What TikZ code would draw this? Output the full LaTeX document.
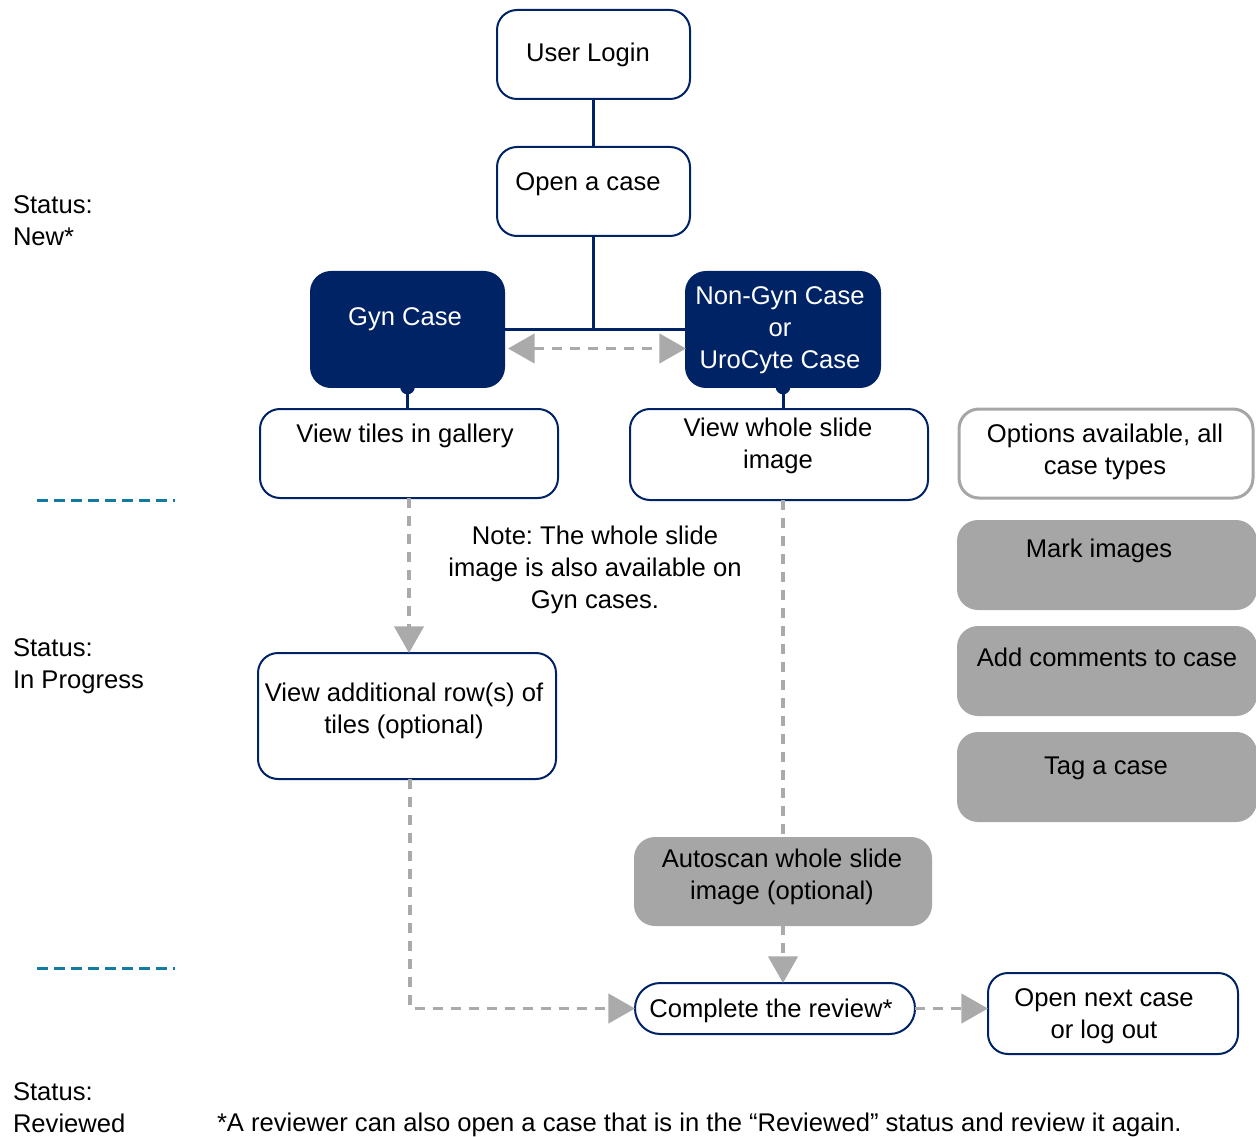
\documentclass[tikz,border=0pt]{standalone}
\usepackage{fontspec}
\setmainfont{Liberation Sans}
\usetikzlibrary{arrows.meta}
\definecolor{navy}{RGB}{0,35,102}
\definecolor{gfill}{RGB}{166,166,166}
\definecolor{garrow}{RGB}{170,170,170}
\definecolor{tealc}{RGB}{16,124,164}
\frenchspacing
\begin{document}
\begin{tikzpicture}[x=0.75pt,y=-0.75pt,
  every node/.style={font=\fontsize{19.2}{24}\selectfont, inner sep=0pt, outer sep=0pt},
  wbox/.style={draw=navy, line width=1.5pt, rounded corners=15pt, fill=white},
  nbox/.style={draw=navy, line width=1.5pt, rounded corners=15pt, fill=navy},
  gbox/.style={draw=gfill, line width=1.5pt, rounded corners=15pt, fill=gfill},
  obox/.style={draw=gfill, line width=2.25pt, rounded corners=15pt, fill=white},
  txt/.style={align=center, text=black},
  wtxt/.style={align=center, text=white},
  navyline/.style={draw=navy, line width=2.25pt},
  gdash/.style={draw=garrow, line width=2.6pt, dash pattern=on 7.5pt off 6pt},
  gtip/.style={-{Triangle[length=20pt,width=22pt,fill=garrow,color=garrow]}},
  gtips/.style={{Triangle[length=20pt,width=22pt,fill=garrow,color=garrow]}-{Triangle[length=20pt,width=22pt,fill=garrow,color=garrow]}},
  tdash/.style={draw=tealc, line width=2.25pt, dash pattern=on 8.25pt off 4.5pt}
]
\useasboundingbox (0,0) rectangle (1256,1137);

% boxes
\node[wbox, minimum width=144.75pt, minimum height=66.75pt] (login) at (593.5,54.5) {};
\node[wbox, minimum width=144.75pt, minimum height=66.75pt] (open) at (593.5,191.5) {};
\node[nbox, minimum width=144.75pt, minimum height=86.25pt] (gyn) at (407.5,329.5) {};
\node[nbox, minimum width=145.5pt, minimum height=86.25pt] (nongyn) at (783,329.5) {};
\node[wbox, minimum width=223.5pt, minimum height=66.75pt] (tiles) at (409,453.5) {};
\node[wbox, minimum width=223.5pt, minimum height=68.25pt] (whole) at (779,454.5) {};
\node[obox, minimum width=220.5pt, minimum height=66.75pt] (options) at (1106,453.5) {};
\node[gbox, minimum width=223.5pt, minimum height=66pt] (mark) at (1107,565) {};
\node[gbox, minimum width=223.5pt, minimum height=66pt] (comments) at (1107,671) {};
\node[gbox, minimum width=223.5pt, minimum height=66pt] (tag) at (1107,777) {};
\node[wbox, minimum width=223.5pt, minimum height=94.5pt] (addl) at (407,716) {};
\node[gbox, minimum width=222pt, minimum height=65.25pt] (autoscan) at (783,881.5) {};
\node[wbox, minimum width=210pt, minimum height=38.25pt, rounded corners=19pt] (complete) at (775,1008.5) {};
\node[wbox, minimum width=187.5pt, minimum height=60.75pt] (nextcase) at (1113,1013.5) {};

% texts
\node[txt] (tlogin) at (588,55) {User Login};
\node[txt] (topen) at (588,184) {Open a case};
\node[wtxt] (tgyn) at (405,319) {Gyn Case};
\node[wtxt] (tnongyn) at (780,330) {Non-Gyn Case\\or\\UroCyte Case};
\node[txt] (ttiles) at (405,436) {View tiles in gallery};
\node[txt] (twhole) at (778,446) {View whole slide\\image};
\node[txt] (toptions) at (1105,452) {Options available, all\\case types};
\node[txt] (tmark) at (1099,551) {Mark images};
\node[txt] (tcomments) at (1107,657) {Add comments to case};
\node[txt] (ttag) at (1106,768) {Tag a case};
\node[txt] (tnote) at (595,570) {Note: The whole slide\\image is also available on\\Gyn cases.};
\node[txt] (taddl) at (404,711) {View additional row(s) of\\tiles (optional)};
\node[txt] (tautoscan) at (782,877) {Autoscan whole slide\\image (optional)};
\node[txt] (tcomplete) at (771,1011) {Complete the review*};
\node[txt] (tnext) at (1104,1016) {Open next case\\or log out};

\node[txt, align=left, anchor=west] (s1) at (13,221) {Status:\\New*};
\node[txt, align=left, anchor=west] (s2) at (13,666) {Status:\\In Progress};
\node[txt, align=left, anchor=west] (s3) at (13,1108) {Status:\\Reviewed};
\node[txt, anchor=west] (foot) at (217,1125) {*A reviewer can also open a case that is in the “Reviewed” status and review it again.};

% navy connectors
\draw[navyline] (login.south) -- (open.north);
\draw[navyline] (open.south) -- (open.south |- gyn.east);
\draw[navyline] (gyn.east) -- (nongyn.west);
\fill[navy] (gyn.south) circle (5.5pt);
\fill[navy] (nongyn.south) circle (5.5pt);
\draw[navyline] (gyn.south) -- (gyn.south |- tiles.north);
\draw[navyline] (nongyn.south) -- (nongyn.south |- whole.north);

% gray dashed connectors
\draw[gdash, gtips] ([shift={(4,19)}]gyn.east) -- ([shift={(0,19)}]nongyn.west);
\draw[gdash, gtip] (tiles.south) -- (tiles.south |- addl.north);
\draw[gdash, gtip] ([xshift=2.25pt]addl.south) |- (complete.west);
\draw[gdash] (autoscan.north |- whole.south) -- (autoscan.north);
\draw[gdash, gtip] (autoscan.south) -- (autoscan.south |- complete.north);
\draw[gdash, gtip] (complete.east) -- (complete.east -| nextcase.west);

% teal status separators
\coordinate (ta1) at (37,500);
\coordinate (tb1) at (175,500);
\coordinate (ta2) at (37,968);
\coordinate (tb2) at (175,968);
\draw[tdash] (ta1) -- (tb1);
\draw[tdash] (ta2) -- (tb2);
\end{tikzpicture}
\end{document}
